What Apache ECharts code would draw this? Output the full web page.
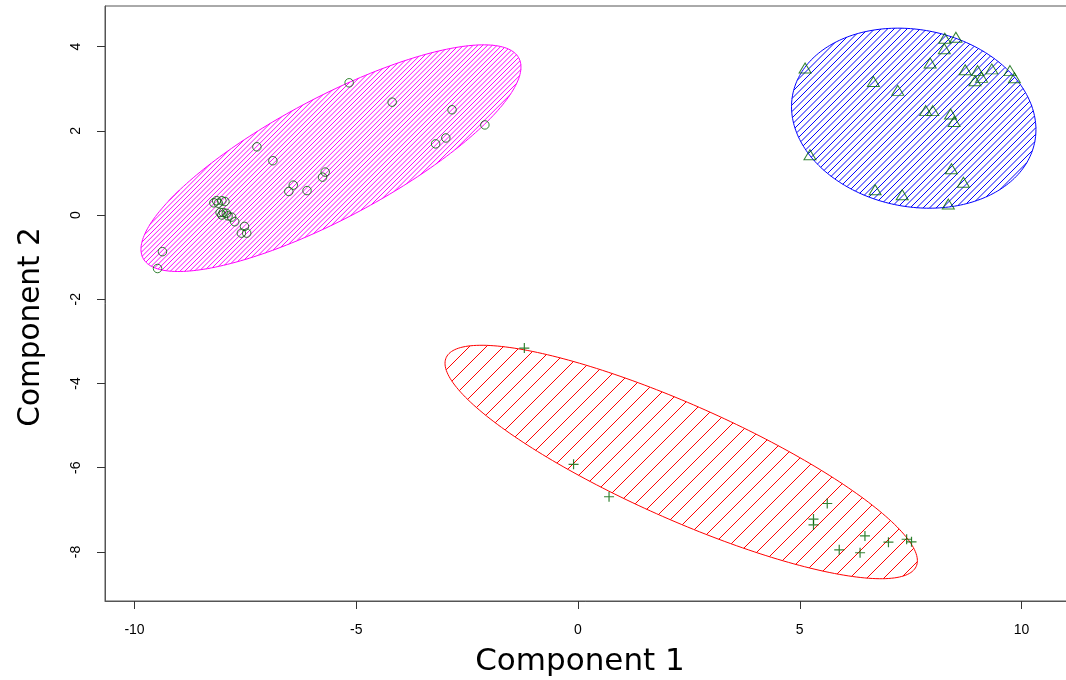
<!DOCTYPE html>
<html>
<head>
<meta charset="utf-8">
<script src="https://cdn.jsdelivr.net/npm/echarts@6/dist/echarts.min.js"></script>
<style>
  html, body { margin: 0; padding: 0; background: #ffffff; }
  #chart { width: 1066px; height: 680px; }
</style>
</head>
<body>
<div id="chart"></div>
<script>
// Cluster A (circles)
const circleX = [-5.16, -4.19, -2.84, -2.10, -3.21, -2.98, -7.24, -6.88, -5.70, -5.76,
                 -6.42, -6.52, -6.11, -8.21, -8.15, -8.03, -7.96, -8.11, -8.00, -8.07,
                 -7.93, -8.03, -7.89, -7.81, -7.74, -7.52, -7.59, -7.47, -9.37, -9.48];
const circleY = [3.14, 2.68, 2.50, 2.14, 1.69, 1.83, 1.62, 1.29, 1.02, 0.90,
                 0.71, 0.56, 0.58, 0.29, 0.34, 0.34, 0.32, 0.28, 0.06, 0.06,
                 0.04, 0.00, -0.02, -0.05, -0.16, -0.27, -0.43, -0.43, -0.87, -1.27];

// Cluster B (triangles)
const triangleX = [5.12, 6.66, 7.21, 7.94, 8.27, 8.52, 8.26, 8.73, 9.01, 9.10, 8.95, 9.33,
                   9.74, 9.84, 7.84, 8.00, 8.40, 8.48, 5.23, 8.42, 8.69, 6.70, 7.31, 8.35];
const triangleY = [3.49, 3.17, 2.96, 3.61, 4.20, 4.22, 3.95, 3.45, 3.43, 3.27, 3.19, 3.47,
                   3.43, 3.26, 2.48, 2.48, 2.40, 2.22, 1.43, 1.10, 0.78, 0.60, 0.48, 0.26];

// Cluster C (crosses)
const plusX = [-1.21, -0.10, 0.70, 5.62, 5.31, 5.31, 6.47, 5.89, 6.36, 7.00, 7.41, 7.52];
const plusY = [-3.16, -5.92, -6.69, -6.85, -7.22, -7.36, -7.62, -7.95, -8.02, -7.77, -7.70, -7.76];

// Spanning ellipses: centre and shape matrix [sxx, sxy, syy] in data units
const ellipseA = [-5.57, 1.35, 18.35, 9.266, 7.243];
const ellipseB = [7.57, 2.30, 7.592, -0.750, 4.570];
const ellipseC = [2.327, -5.865, 28.36, -12.48, 7.684];

const xTicks = [-10, -5, 0, 5, 10];
const yTicks = [-8, -6, -4, -2, 0, 2, 4];

const pointColor = '#006400';

function pairs(xs, ys) {
  return xs.map((x, i) => [x, ys[i]]);
}

// Ellipse outline plus 45-degree shading lines clipped to its interior
function ellipseRenderer(color, spacing) {
  return function (params, api) {
    const cx = api.value(0), cy = api.value(1);
    const sxx = api.value(2), sxy = api.value(3), syy = api.value(4);
    const a = Math.sqrt(sxx);
    const b = sxy / a;
    const c = Math.sqrt(syy - b * b);
    const n = 240;
    const pts = [];
    for (let i = 0; i < n; i++) {
      const t = (i / n) * Math.PI * 2;
      pts.push(api.coord([cx + a * Math.cos(t), cy + b * Math.cos(t) + c * Math.sin(t)]));
    }
    let kMin = Infinity, kMax = -Infinity;
    pts.forEach(p => {
      const k = p[0] + p[1];
      if (k < kMin) kMin = k;
      if (k > kMax) kMax = k;
    });
    let hatch = '';
    const start = Math.ceil(kMin / spacing) * spacing;
    for (let k = start; k < kMax; k += spacing) {
      const hits = [];
      for (let i = 0; i < n; i++) {
        const p = pts[i], q = pts[(i + 1) % n];
        const dp = p[0] + p[1] - k, dq = q[0] + q[1] - k;
        if ((dp <= 0 && dq > 0) || (dp > 0 && dq <= 0)) {
          const s = dp / (dp - dq);
          hits.push([p[0] + s * (q[0] - p[0]), p[1] + s * (q[1] - p[1])]);
        }
      }
      if (hits.length >= 2) {
        hatch += 'M' + hits[0][0].toFixed(2) + ',' + hits[0][1].toFixed(2) +
                 'L' + hits[1][0].toFixed(2) + ',' + hits[1][1].toFixed(2);
      }
    }
    return {
      type: 'group',
      children: [
        {
          type: 'path',
          shape: { pathData: hatch, layout: 'center' },
          style: { fill: null, stroke: color, lineWidth: 1 }
        },
        {
          type: 'polygon',
          shape: { points: pts },
          style: { fill: null, stroke: color, lineWidth: 1 }
        }
      ]
    };
  };
}

function ellipseSeries(params, color, spacing) {
  return {
    type: 'custom',
    silent: true,
    z: 1,
    dimensions: ['x', 'y', 'sxx', 'sxy', 'syy'],
    encode: { x: 0, y: 1 },
    data: [params],
    renderItem: ellipseRenderer(color, spacing)
  };
}

const axisColor = '#555555';
const labelFont = 'Liberation Sans';

const chart = echarts.init(document.getElementById('chart'), null, { renderer: 'canvas' });

chart.setOption({
  animation: false,
  backgroundColor: '#ffffff',
  grid: {
    left: 105, top: 6, width: 966, height: 595,
    outerBoundsMode: 'none', containLabel: false,
    show: true, borderColor: axisColor, borderWidth: 1, backgroundColor: 'transparent'
  },
  xAxis: {
    type: 'value',
    min: -10.665, max: 11.116,
    splitLine: { show: false },
    axisLine: { show: true, onZero: false, lineStyle: { color: axisColor } },
    axisTick: { show: true, length: 8, customValues: xTicks, lineStyle: { color: '#333' } },
    axisLabel: {
      customValues: xTicks, margin: 22, fontSize: 14, color: '#000',
      fontFamily: labelFont
    }
  },
  yAxis: {
    type: 'value',
    min: -9.166, max: 4.964,
    splitLine: { show: false },
    axisLine: { show: true, onZero: false, lineStyle: { color: axisColor } },
    axisTick: { show: true, length: 8, customValues: yTicks, lineStyle: { color: '#333' } },
    axisLabel: {
      customValues: yTicks, rotate: 90, margin: 22, fontSize: 14, color: '#000',
      fontFamily: labelFont
    }
  },
  graphic: [
    {
      type: 'text',
      x: 580, y: 662,
      style: {
        text: 'Component 1', fill: '#000',
        font: '31px "DejaVu Sans"', align: 'center', verticalAlign: 'middle'
      }
    },
    {
      type: 'text',
      x: 31, y: 327, rotation: Math.PI / 2,
      style: {
        text: 'Component 2', fill: '#000',
        font: '29.5px "DejaVu Sans"', align: 'center', verticalAlign: 'middle'
      }
    }
  ],
  series: [
    ellipseSeries(ellipseA, '#ff00ff', 4.8),
    ellipseSeries(ellipseB, '#0000ff', 6.5),
    ellipseSeries(ellipseC, '#ff0000', 17),
    {
      type: 'scatter', z: 3,
      data: pairs(circleX, circleY),
      symbol: 'circle', symbolSize: 8.5,
      itemStyle: { color: 'rgba(0,0,0,0)', borderColor: pointColor, borderWidth: 1 }
    },
    {
      type: 'scatter', z: 3,
      data: pairs(triangleX, triangleY),
      symbol: 'triangle', symbolSize: [12, 10],
      itemStyle: { color: 'rgba(0,0,0,0)', borderColor: pointColor, borderWidth: 1 }
    },
    {
      type: 'scatter', z: 3,
      data: pairs(plusX, plusY),
      symbol: 'path://M0,5L10,5M5,0L5,10', symbolSize: 10,
      itemStyle: { color: 'rgba(0,0,0,0)', borderColor: pointColor, borderWidth: 1.2 }
    }
  ]
});
</script>
</body>
</html>
